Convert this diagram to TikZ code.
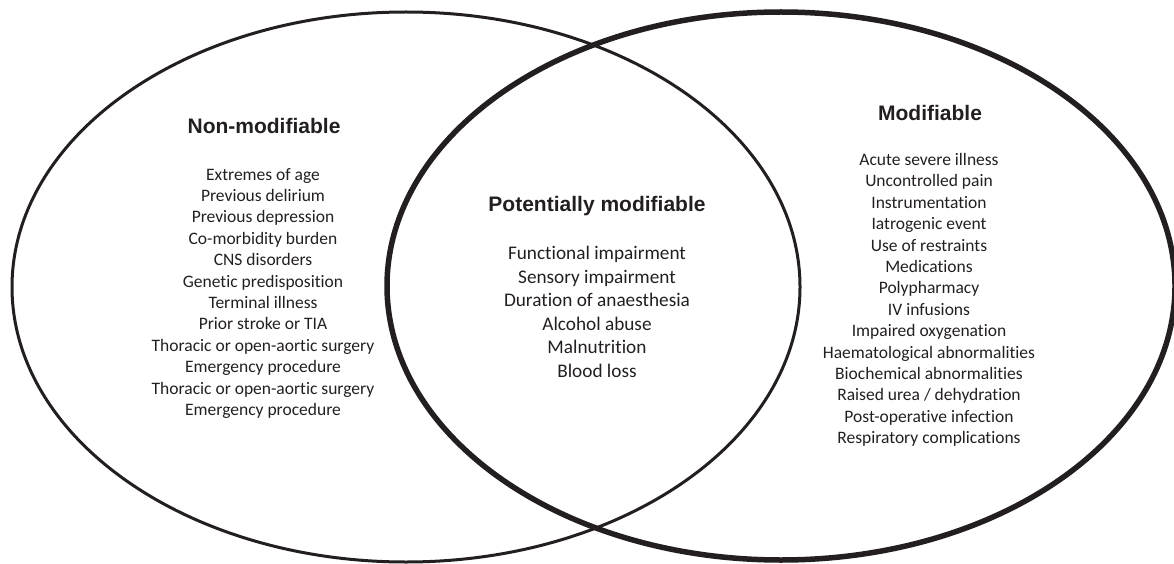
\documentclass[tikz,border=0pt]{standalone}
\usepackage{fontspec}
\setmainfont{Carlito}[Ligatures={NoCommon}]
\newfontfamily\headfont{Liberation Sans}
\definecolor{ink}{HTML}{231F20}
\tikzset{
  thinring/.style={draw=ink, line width=3pt},
  thickring/.style={draw=ink, line width=5.5pt},
  head/.style={anchor=base, inner sep=0pt, text=ink, font=\headfont\bfseries\fontsize{21}{25}\selectfont},
  item/.style={anchor=base, inner sep=0pt, text=ink, font=\fontsize{17.5}{21.4}\selectfont},
  bigitem/.style={anchor=base, inner sep=0pt, text=ink, font=\fontsize{19.25}{23.5}\selectfont}
}
\begin{document}
\begin{tikzpicture}[x=1pt,y=-1pt]
\useasboundingbox (0,0) rectangle (1174,564);
\draw[thinring] (406,287) ellipse [x radius=394, y radius=275];
\draw[thickring] (781,286) ellipse [x radius=394, y radius=274];
\node[head] (hnon) at (264,133.5) {Non-modifiable};
\node[head] (hpot) at (597,211.5) {Potentially modifiable};
\node[head] (hmod) at (930,120.5) {Modifiable};
\foreach \t [count=\i] in {Extremes of age, Previous delirium, Previous depression, Co-morbidity burden, CNS disorders, Genetic predisposition, Terminal illness, Prior stroke or TIA, Thoracic or open-aortic surgery, Emergency procedure, Thoracic or open-aortic surgery, Emergency procedure}
  \node[item] (n\i) at (263,{180+21.4*(\i-1)}) {\t};
\foreach \t [count=\i] in {Functional impairment, Sensory impairment, Duration of anaesthesia, Alcohol abuse, Malnutrition, Blood loss}
  \node[bigitem] (p\i) at (597,{259.6+23.5*(\i-1)}) {\t};
\foreach \t [count=\i] in {Acute severe illness, Uncontrolled pain, Instrumentation, Iatrogenic event, Use of restraints, Medications, Polypharmacy, IV infusions, Impaired oxygenation, Haematological abnormalities, Biochemical abnormalities, Raised urea / dehydration, Post-operative infection, Respiratory complications}
  \node[item] (m\i) at (929,{165.5+21.4*(\i-1)}) {\t};
\end{tikzpicture}
\end{document}
